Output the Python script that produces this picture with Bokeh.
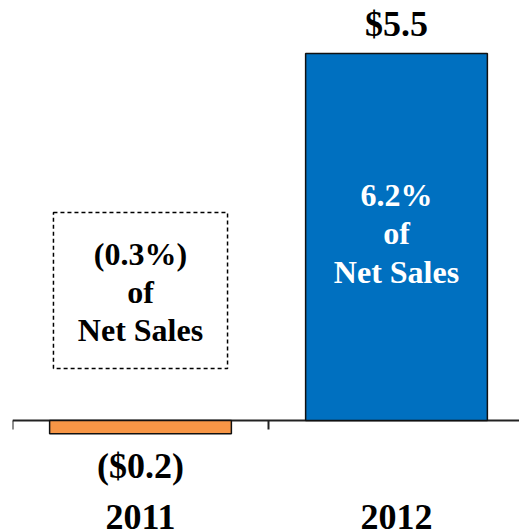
from bokeh.plotting import figure
from bokeh.models import Range1d, ColumnDataSource
from bokeh.core.properties import value
from bokeh.embed import file_html
from bokeh.resources import INLINE

years = ["2011", "2012"]
income = [-0.2, 5.5]
value_labels = ["($0.2)", "$5.5"]
pct_values = ["(0.3%)", "6.2%"]
pct_suffix = ["of", "Net Sales"]
colors = ["#F79646", "#0070C0"]

x = [0.5, 1.5]
PX = 66.73  # pixels per unit

p = figure(width=519, height=532, output_backend="svg", toolbar_location=None,
           x_range=Range1d(0, 507 / 256), y_range=Range1d(-(532 - 420) / PX, 420 / PX),
           x_axis_type=None, y_axis_type=None, min_border_left=12, min_border_right=0,
           min_border_top=0, min_border_bottom=0, outline_line_color=None)
p.grid.visible = False

FONT = value("Liberation Serif")
common = dict(text_font=FONT, text_font_style="bold", text_align="center", text_baseline="middle")

# baseline and ticks
p.segment(x0=[0], y0=[0], x1=[2], y1=[0], line_color="#222222", line_width=2)
p.segment(x0=[0, 1, 2], y0=[0, 0, 0], x1=[0, 1, 2], y1=[-9 / PX] * 3, line_color="#222222", line_width=2)

src = ColumnDataSource(dict(x=x, top=income, color=colors))
p.vbar(x="x", top="top", bottom=0, width=0.71, fill_color="color", line_color="#111111",
       line_width=1.5, source=src)

# value labels
p.text(x=[x[1]], y=[income[1]], text=[value_labels[1]], y_offset=-29,
       text_font_size="36px", text_color="black", **common)
p.text(x=[x[0]], y=[income[0]], text=[value_labels[0]], y_offset=32,
       text_font_size="36px", text_color="black", **common)

# year labels
p.text(x=x, y=[0, 0], text=years, y_offset=96, text_font_size="36px", text_color="black", **common)

# pct labels inside 2012 bar
lines_2012 = [pct_values[1]] + pct_suffix
for txt, off in zip(lines_2012, [-42, -4, 35]):
    p.text(x=[x[1]], y=[income[1] / 2], text=[txt], y_offset=off, text_font_size="32px",
           text_color="white", **common)

# dashed box for 2011
box_bottom, box_top = (420 - 368) / PX, (420 - 212) / PX
p.quad(left=[x[0] - 0.34], right=[x[0] + 0.34], bottom=[box_bottom], top=[box_top],
       fill_color=None, line_color="black", line_width=1.5, line_dash="4 3")
lines_2011 = [pct_values[0]] + pct_suffix
for txt, off in zip(lines_2011, [-37, 1, 39]):
    p.text(x=[x[0]], y=[(box_bottom + box_top) / 2], text=[txt], y_offset=off, text_font_size="32px",
           text_color="black", **common)

open("out.html", "w").write(file_html(p, INLINE))
